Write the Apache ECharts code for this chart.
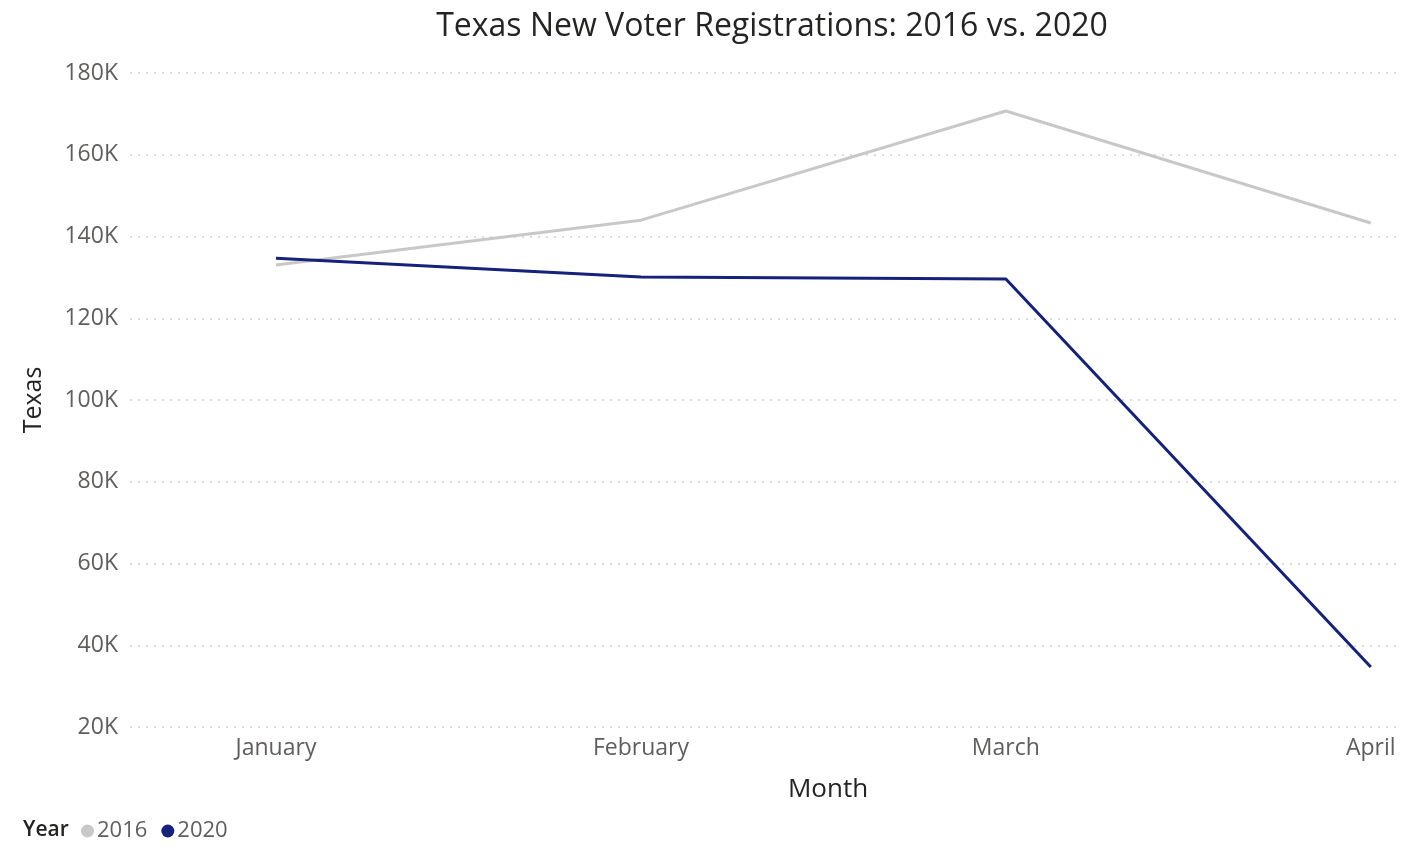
<!DOCTYPE html>
<html>
<head>
<meta charset="utf-8">
<script src="https://cdn.jsdelivr.net/npm/echarts@6/dist/echarts.min.js"></script>
<style>html,body{margin:0;padding:0;background:#fff}#c{width:1412px;height:854px}</style>
</head>
<body>
<div id="c"></div>
<script>
const months = ['January', 'February', 'March', 'April'];
const years = ['2016', '2020'];
const values2016 = [133000, 144000, 170700, 143300];
const values2020 = [134700, 130100, 129600, 34700];
const yTicks = [20000, 40000, 60000, 80000, 100000, 120000, 140000, 160000, 180000];

const chart = echarts.init(document.getElementById('c'));
const font = 'Open Sans, Noto Sans, sans-serif';
const toPts = arr => arr.map((v, i) => [i, v]);

chart.setOption({
  animation: false,
  title: [
    { text: 'Texas New Voter Registrations: 2016 vs. 2020', left: 767, top: 6, textAlign: 'center',
      textStyle: { fontFamily: font, fontSize: 32, fontWeight: 'normal', color: '#252423' } },
    { text: 'Month', left: 823, top: 772, textAlign: 'center',
      textStyle: { fontFamily: font, fontSize: 26, fontWeight: 'normal', color: '#252423' } },
    { text: 'Year', left: 18, top: 815,
      textStyle: { fontFamily: font, fontSize: 21, fontWeight: 600, color: '#252423' } }
  ],
  legend: {
    left: 76, top: 815, icon: 'circle', itemWidth: 13, itemHeight: 13, itemGap: 14,
    textStyle: { fontFamily: font, fontSize: 22, color: '#605e5c', padding: [0, 0, 0, -2] },
    data: years
  },
  grid: { left: 130, right: 12, top: 73, bottom: 127 },
  xAxis: {
    type: 'value', min: -0.4, max: 3.08,
    axisLine: { show: false }, axisTick: { show: false }, splitLine: { show: false },
    axisLabel: { customValues: [0, 1, 2, 3], formatter: v => months[Math.round(v)] || '',
      fontFamily: font, fontSize: 23, color: '#605e5c', margin: 10 }
  },
  yAxis: {
    type: 'value', min: 20000, max: 180000, interval: 20000,
    name: 'Texas', nameLocation: 'middle', nameGap: 84, nameRotate: 90,
    nameTextStyle: { fontFamily: font, fontSize: 25, color: '#252423' },
    axisLine: { show: false }, axisTick: { show: false },
    splitLine: { lineStyle: { type: [2, 6], color: '#d0d0d0', width: 1.5 } },
    axisLabel: { formatter: v => yTicks.includes(v) ? (v / 1000) + 'K' : '',
      fontFamily: font, fontSize: 23, color: '#605e5c', margin: 12 }
  },
  series: [
    { name: years[0], type: 'line', data: toPts(values2016), showSymbol: false,
      lineStyle: { color: '#c8c8c8', width: 3 }, itemStyle: { color: '#c8c8c8' } },
    { name: years[1], type: 'line', data: toPts(values2020), showSymbol: false,
      lineStyle: { color: '#15217a', width: 3 }, itemStyle: { color: '#15217a' } }
  ]
});
</script>
</body>
</html>
